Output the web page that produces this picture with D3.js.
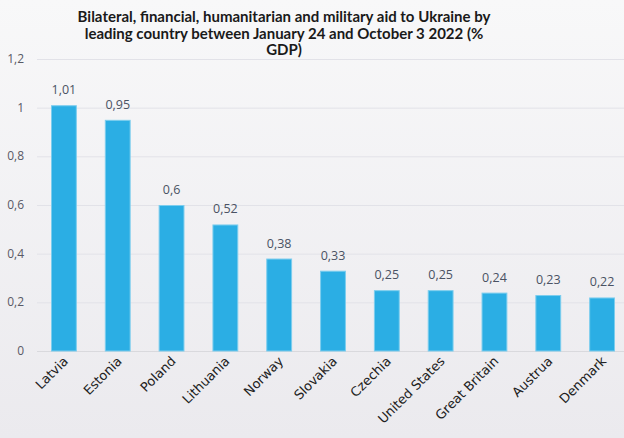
<!DOCTYPE html>
<html>
<head>
<meta charset="utf-8">
<script src="https://cdn.jsdelivr.net/npm/d3@7"></script>
<style>
  body { margin: 0; }
  svg { display: block; }
</style>
</head>
<body>
<div id="chart"></div>
<script>
const countries = ["Latvia", "Estonia", "Poland", "Lithuania", "Norway", "Slovakia",
                   "Czechia", "United States", "Great Britain", "Austrua", "Denmark"];
const aidGdp = [1.01, 0.95, 0.6, 0.52, 0.38, 0.33, 0.25, 0.25, 0.24, 0.23, 0.22];
const yTicks = [0, 0.2, 0.4, 0.6, 0.8, 1, 1.2];
const titleLines = ["Bilateral, financial, humanitarian and military aid to Ukraine by",
                    "leading country between January 24 and October 3 2022 (%",
                    "GDP)"];

const width = 624, height = 438;
const fmt = v => String(v).replace(".", ",");

const svg = d3.select("#chart").append("svg")
    .attr("width", width)
    .attr("height", height);

const grad = svg.append("defs").append("linearGradient")
    .attr("id", "bg").attr("x1", 0).attr("y1", 0).attr("x2", 0).attr("y2", 1);
grad.append("stop").attr("offset", "0%").attr("stop-color", "#f8f8f9");
grad.append("stop").attr("offset", "100%").attr("stop-color", "#ebeaee");

svg.append("rect")
    .attr("width", width)
    .attr("height", height)
    .attr("fill", "url(#bg)");

const x = d3.scaleBand()
    .domain(countries)
    .range([37, 629])
    .paddingInner(0.52)
    .paddingOuter(0.26);

const y = d3.scaleLinear()
    .domain([0, 1.2])
    .range([351, 59]);

// grid
svg.append("g")
    .selectAll("line")
    .data(yTicks)
    .join("line")
    .attr("x1", 37)
    .attr("x2", 624)
    .attr("y1", d => y(d) + 0.5)
    .attr("y2", d => y(d) + 0.5)
    .attr("stroke", d => d === 0 ? "#d9d9dd" : "#e2e2e8")
    .attr("stroke-width", 1);

// y labels
svg.append("g")
    .selectAll("text")
    .data(yTicks)
    .join("text")
    .attr("x", 24)
    .attr("y", d => y(d) + 4)
    .attr("text-anchor", "end")
    .attr("font-family", "'Open Sans', sans-serif")
    .attr("font-size", 12)
    .attr("fill", "#595966")
    .text(fmt);

// bars
svg.append("g")
    .selectAll("rect")
    .data(aidGdp)
    .join("rect")
    .attr("x", (d, i) => x(countries[i]) + 0.5)
    .attr("y", d => y(d) + 0.5)
    .attr("width", x.bandwidth() - 1)
    .attr("height", d => y(0) - y(d) - 0.5)
    .attr("fill", "#2baee4")
    .attr("stroke", "#7ccdee")
    .attr("stroke-width", 1);

// value labels
svg.append("g")
    .selectAll("text")
    .data(aidGdp)
    .join("text")
    .attr("x", (d, i) => x(countries[i]) + x.bandwidth() / 2)
    .attr("y", d => y(d) - 11)
    .attr("text-anchor", "middle")
    .attr("font-family", "'Open Sans', sans-serif")
    .attr("font-size", 12.5)
    .attr("fill", "#4a5263")
    .text(fmt);

// category labels
svg.append("g")
    .selectAll("text")
    .data(countries)
    .join("text")
    .attr("transform", d => `translate(${x(d) + x.bandwidth() / 2 + 5},${362}) rotate(-45)`)
    .attr("text-anchor", "end")
    .attr("font-family", "'DejaVu Sans', sans-serif")
    .attr("font-size", 13)
    .attr("fill", "#222")
    .text(d => d);

// title
svg.append("g")
    .selectAll("text")
    .data(titleLines)
    .join("text")
    .attr("x", 284)
    .attr("y", (d, i) => 22 + i * 16.5)
    .attr("text-anchor", "middle")
    .attr("font-family", "Lato, sans-serif")
    .attr("font-weight", "bold")
    .attr("font-size", 15)
    .attr("fill", "#1a1a1a")
    .text(d => d);
</script>
</body>
</html>
